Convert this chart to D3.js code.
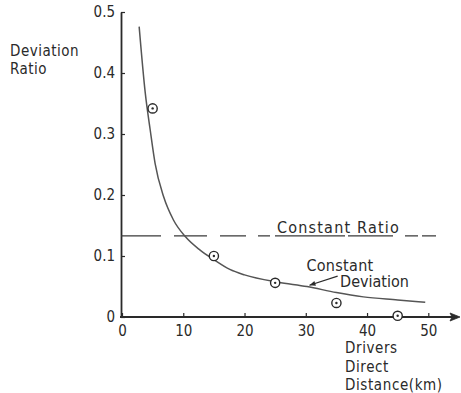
<!DOCTYPE html>
<html>
<head>
<meta charset="utf-8">
<script src="https://cdn.jsdelivr.net/npm/d3@7"></script>
<style>
  html, body { margin: 0; padding: 0; background: #fff; }
  svg text { font-family: "DejaVu Sans Condensed", "DejaVu Sans", sans-serif; font-stretch: condensed; fill: #2a2a2a; }
</style>
</head>
<body>
<svg id="chart" width="461" height="393"></svg>
<script>
// Observed deviation ratio at each distance band (km)
const distances = [5, 15, 25, 35, 45];
const ratios = [0.342, 0.100, 0.056, 0.023, 0.002];

// Fitted "constant deviation" curve
const curveDistance = [2.8, 3.8, 4.6, 5.4, 6.8, 8.4, 10.4, 12.7, 15, 17.6, 20, 25.5, 30.2, 35, 39.4, 45, 49.5];
const curveRatio = [0.476, 0.367, 0.307, 0.252, 0.197, 0.159, 0.131, 0.110, 0.094, 0.078, 0.069, 0.057, 0.050, 0.040, 0.033, 0.028, 0.024];

// "Constant ratio" reference level
const constantRatio = 0.133;

const xTicks = [0, 10, 20, 30, 40, 50];
const yTicks = [0, 0.1, 0.2, 0.3, 0.4, 0.5];
const yTickLabels = ["0", "0.1", "0.2", "0.3", "0.4", "0.5"];

const svg = d3.select("#chart");
const x = d3.scaleLinear().domain([0, 50]).range([122, 428.3]);
const y = d3.scaleLinear().domain([0, 0.5]).range([317, 12]);

const ink = "#2a2a2a";

// Y axis
const yAxis = d3.axisLeft(y)
  .tickValues(yTicks)
  .tickFormat((d, i) => yTickLabels[i])
  .tickSizeInner(-4)
  .tickSizeOuter(0)
  .tickPadding(6);
const gy = svg.append("g").attr("transform", "translate(121,0)").call(yAxis);
gy.select(".domain").attr("stroke", ink).attr("stroke-width", 1.8);
gy.selectAll(".tick line").attr("stroke", ink).attr("stroke-width", 1.2);
gy.selectAll(".tick text").style("font-size", "15px").attr("fill", ink);

// X axis
const xAxis = d3.axisBottom(x)
  .tickValues(xTicks)
  .tickSizeInner(-4)
  .tickSizeOuter(0)
  .tickPadding(8);
const gx = svg.append("g").attr("transform", "translate(0,317)").call(xAxis);
gx.select(".domain").remove();
gx.selectAll(".tick line").attr("stroke", ink).attr("stroke-width", 1.2);
gx.selectAll(".tick text").style("font-size", "15px").attr("fill", ink);

// X axis line with arrowhead
svg.append("line")
  .attr("x1", 120).attr("x2", 456)
  .attr("y1", y(0)).attr("y2", y(0))
  .attr("stroke", ink).attr("stroke-width", 1.8);
svg.append("path")
  .attr("d", `M460,${y(0)} L450,${y(0) - 4} L452,${y(0)} L450,${y(0) + 4} Z`)
  .attr("fill", ink).attr("stroke", ink).attr("stroke-width", 0.8);

// Constant ratio dashed line
svg.append("line")
  .attr("x1", 121).attr("x2", x(52.2))
  .attr("y1", y(constantRatio)).attr("y2", y(constantRatio))
  .attr("stroke", "#3a3a3a").attr("stroke-width", 1.3)
  .attr("stroke-dasharray", "40 13 33 13 26 12 12 5 70 3 45 12 13 4 14 200");

svg.append("text")
  .attr("x", x(25.3)).attr("y", y(constantRatio) - 3)
  .style("font-size", "16px")
  .style("letter-spacing", "1.2px")
  .text("Constant Ratio");

// Constant deviation curve
const line = d3.line()
  .x(d => x(d[0]))
  .y(d => y(d[1]))
  .curve(d3.curveMonotoneX);
svg.append("path")
  .datum(curveDistance.map((d, i) => [d, curveRatio[i]]))
  .attr("d", line)
  .attr("fill", "none")
  .attr("stroke", "#555")
  .attr("stroke-width", 1.5);

// Observed points: ring with a centre dot
const pts = svg.append("g").selectAll("g")
  .data(distances.map((d, i) => [d, ratios[i]]))
  .join("g")
  .attr("transform", d => `translate(${x(d[0])},${y(d[1])})`);
pts.append("circle").attr("r", 4.6).attr("fill", "#fff").attr("stroke", ink).attr("stroke-width", 1.4);
pts.append("circle").attr("r", 1.2).attr("fill", ink);

// Curve annotation with pointer
svg.append("text")
  .attr("x", x(30.1)).attr("y", y(0.075))
  .style("font-size", "16px")
  .style("letter-spacing", "0.3px")
  .text("Constant");
svg.append("text")
  .attr("x", x(35.6)).attr("y", y(0.049))
  .style("font-size", "16px")
  .text("Deviation");
const ax1 = x(35.2), ay1 = y(0.067), ax2 = x(30.6), ay2 = y(0.052);
svg.append("line")
  .attr("x1", ax1).attr("y1", ay1).attr("x2", ax2).attr("y2", ay2)
  .attr("stroke", ink).attr("stroke-width", 1.1);
const ang = Math.atan2(ay2 - ay1, ax2 - ax1);
const hl = 6, hw = 2.5;
const bx = ax2 - hl * Math.cos(ang), by = ay2 - hl * Math.sin(ang);
svg.append("path")
  .attr("d", `M${ax2},${ay2} L${bx - hw * Math.sin(ang)},${by + hw * Math.cos(ang)} L${bx + hw * Math.sin(ang)},${by - hw * Math.cos(ang)} Z`)
  .attr("fill", ink);

// Axis titles
const yTitle = svg.append("text").attr("x", 10).attr("y", 56)
  .style("font-size", "15px").style("letter-spacing", "0.5px");
yTitle.append("tspan").attr("x", 10).text("Deviation");
yTitle.append("tspan").attr("x", 10).attr("dy", 18).text("Ratio");

const xTitle = svg.append("text").attr("x", 345).attr("y", 353)
  .style("font-size", "15px").style("letter-spacing", "0.6px");
xTitle.append("tspan").attr("x", 345).text("Drivers");
xTitle.append("tspan").attr("x", 345).attr("dy", 18.5).text("Direct");
xTitle.append("tspan").attr("x", 345).attr("dy", 18.5).text("Distance(km)");
</script>
</body>
</html>
